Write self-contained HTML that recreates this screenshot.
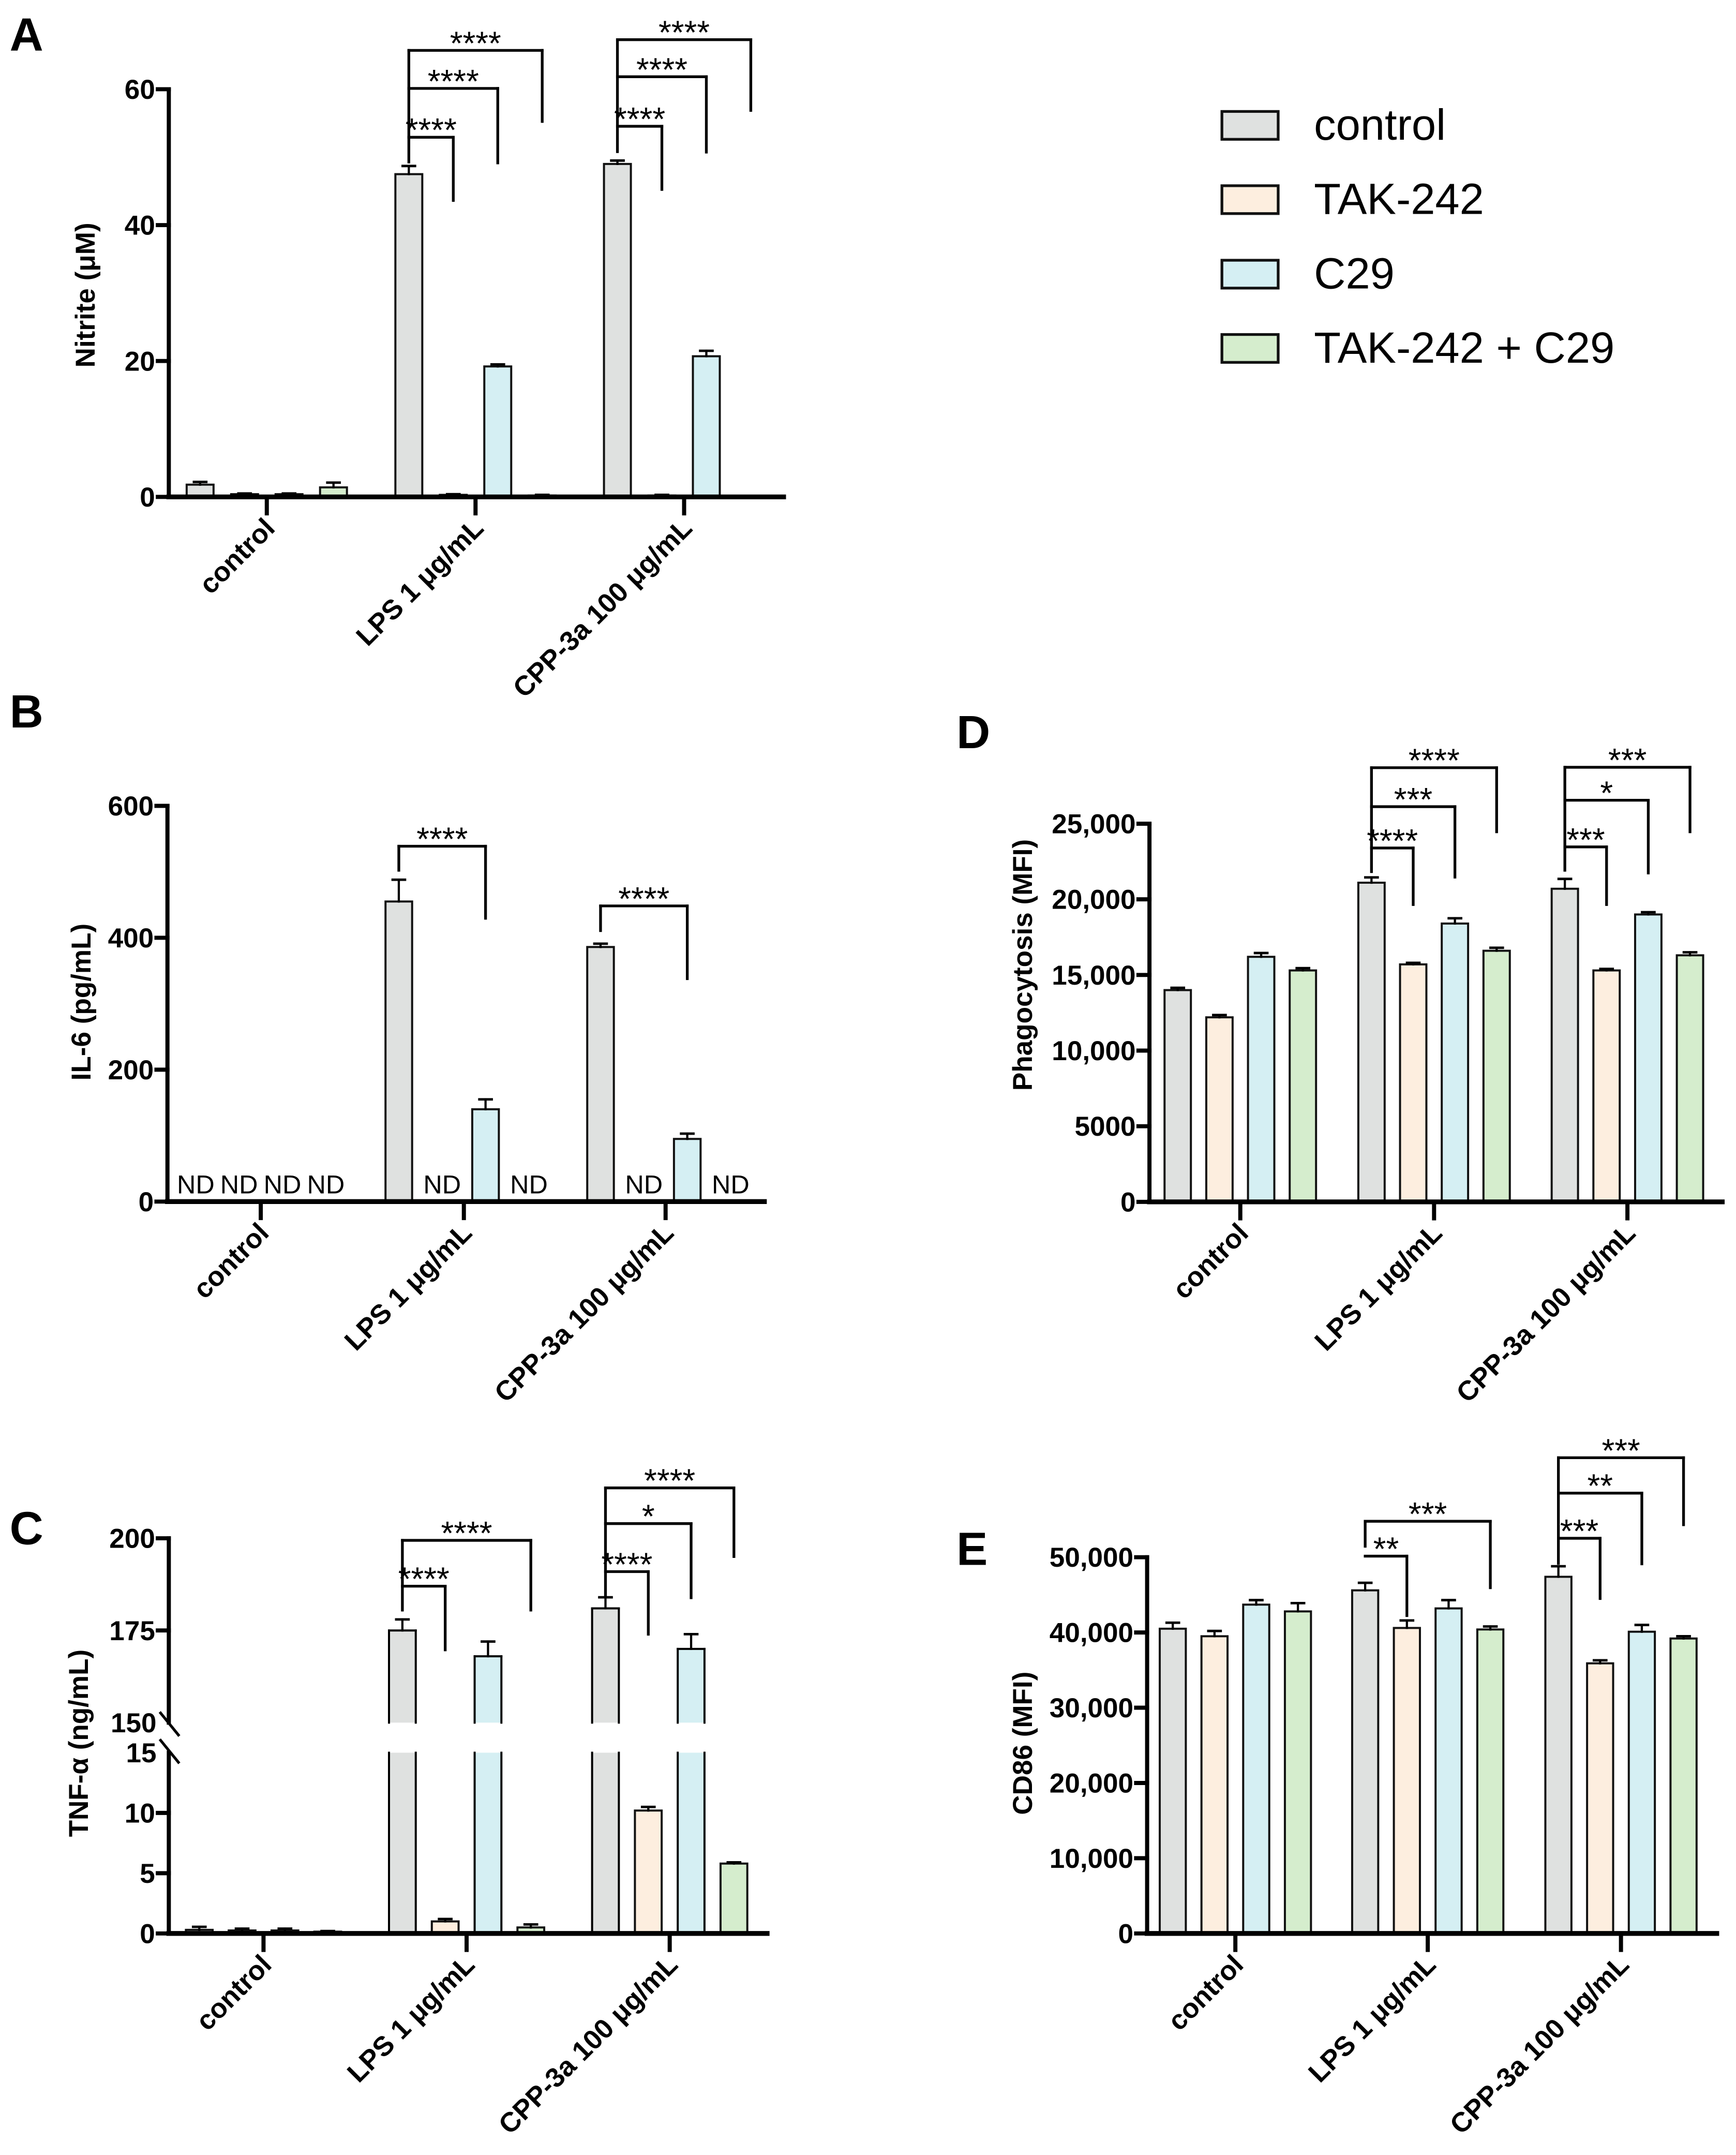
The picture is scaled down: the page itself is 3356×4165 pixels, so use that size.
<!DOCTYPE html>
<html><head><meta charset="utf-8">
<style>
html,body{margin:0;padding:0;background:#fff;}
svg{display:block;}
text{font-family:"Liberation Sans",Arial,sans-serif;}
</style></head>
<body>
<svg id="fig" xmlns="http://www.w3.org/2000/svg" width="3356" height="4165" viewBox="0 0 1265 1570">
<rect x="0" y="0" width="1265" height="1570" fill="#fff"/>
</svg>
<script>
// ---------- data ----------
const categories = ["control", "LPS 1 \u03bcg/mL", "CPP-3a 100 \u03bcg/mL"];
const seriesNames = ["control", "TAK-242", "C29", "TAK-242 + C29"];
const seriesColors = ["#dfe1e0", "#fdeedf", "#d5eff3", "#d5edcd"];

const nitriteVals = [[1.8,0.4,0.4,1.4],[47.5,0.3,19.2,0.2],[49.0,0.2,20.7,0.1]];
const nitriteErr  = [[0.4,0.1,0.1,0.7],[1.2,0.1,0.3,0.1],[0.5,0.1,0.8,0.05]];
const nitriteTicks = [0,20,40,60];

const il6Vals = [[null,null,null,null],[455,null,140,null],[386,null,95,null]];
const il6Err  = [[0,0,0,0],[33,0,15,0],[5,0,8,0]];
const il6Ticks = [0,200,400,600];

const tnfVals = [[0.3,0.25,0.25,0.15],[175,1.0,168,0.5],[181,10.2,170,5.8]];
const tnfErr  = [[0.25,0.15,0.15,0.05],[3,0.2,4,0.25],[3,0.3,4,0.1]];
const tnfTicksLow = [0,5,10,15];
const tnfTicksHigh = [150,175,200];

const phagoVals = [[14000,12200,16200,15300],[21100,15700,18400,16600],[20700,15300,19000,16300]];
const phagoErr  = [[150,150,250,150],[350,100,350,200],[650,100,150,200]];
const phagoTicks = [0,5000,10000,15000,20000,25000];
const phagoTickLabels = ["0","5000","10,000","15,000","20,000","25,000"];

const cd86Vals = [[40500,39500,43700,42800],[45600,40600,43200,40400],[47400,35900,40100,39200]];
const cd86Err  = [[800,700,600,1100],[1000,1000,1100,400],[1400,400,900,300]];
const cd86Ticks = [0,10000,20000,30000,40000,50000];
const cd86TickLabels = ["0","10,000","20,000","30,000","40,000","50,000"];

// ---------- helpers ----------
const NS = "http://www.w3.org/2000/svg";
const svg = document.getElementById("fig");
function mk(tag, attrs, parent){
  const e = document.createElementNS(NS, tag);
  for (const k in attrs) e.setAttribute(k, attrs[k]);
  (parent||svg).appendChild(e);
  return e;
}
function line(g,x1,y1,x2,y2,w,name){
  const l = mk("line",{x1:x1,y1:y1,x2:x2,y2:y2,stroke:"#000","stroke-width":w,"stroke-linecap":"square"},g);
  
  
  return l;
}
function txt(g,x,y,s,size,opts){
  opts = opts||{};
  const t = mk("text",{x:x,y:y,"font-size":size,"text-anchor":opts.anchor||"middle","font-weight":opts.bold?"bold":"normal",fill:"#000"},g);
  if (opts.transform) t.setAttribute("transform", opts.transform);
  t.textContent = s;
  
  
  return t;
}

function drawPanel(p){
  const g = mk("g",{});
  
  
  // panel letter
  txt(g, p.letterX, p.letterY, p.letter, 34, {bold:true, anchor:"start", name:'panel-letter'});
  const xc = (gi, si) => p.ticksX[gi] + (si-1.5)*p.spacing;
  const bw = p.barW;
  // bars
  p.vals.forEach((grp, gi) => grp.forEach((v, si) => {
    if (v === null) {
      txt(g, xc(gi,si), p.y0-6, "ND", 19, {name:'nd-label'});
      return;
    }
    const top = p.yf(v);
    const x = xc(gi,si) - bw/2;
    if (p.broken && v > p.breakLow) {
      const r1 = mk("rect",{x:x,y:p.yf(p.breakLow),width:bw,height:p.y0-p.yf(p.breakLow),fill:seriesColors[si],stroke:"none"},g);
      
      
      line(g,x,p.yf(p.breakLow),x,p.y0,1.5,'bar-edge');
      line(g,x+bw,p.yf(p.breakLow),x+bw,p.y0,1.5,'bar-edge');
      const r2 = mk("rect",{x:x,y:top,width:bw,height:p.yf(p.breakHigh)-top,fill:seriesColors[si],stroke:"none"},g);
      
      
      line(g,x,top,x,p.yf(p.breakHigh),1.5,'bar-edge');
      line(g,x+bw,top,x+bw,p.yf(p.breakHigh),1.5,'bar-edge');
      line(g,x,top,x+bw,top,1.5,'bar-top');
    } else {
      const r = mk("rect",{x:x,y:top,width:bw,height:Math.max(0.5,p.y0-top),fill:seriesColors[si],stroke:"#111","stroke-width":1.5},g);
      
      
    }
    const e = p.errs[gi][si];
    if (e > 0) {
      const et = p.yf(v+e);
      line(g, xc(gi,si), top, xc(gi,si), et, 1.6, 'error-bar');
      line(g, xc(gi,si)-4.5, et, xc(gi,si)+4.5, et, 1.8, 'error-cap');
    }
  }));
  // y axis
  if (p.broken) {
    line(g,p.axisX,p.y0,p.axisX,p.yf(p.breakLow),3,'y-axis-lower');
    line(g,p.axisX,p.yf(p.breakHigh),p.axisX,p.yf(p.ticksHigh[p.ticksHigh.length-1]),3,'y-axis-upper');
    line(g,p.axisX-6,p.yf(p.breakHigh)-7,p.axisX+7,p.yf(p.breakHigh)+9,2,'axis-break-mark');
    line(g,p.axisX-6,p.yf(p.breakLow)-9,p.axisX+7,p.yf(p.breakLow)+7,2,'axis-break-mark');
    p.ticksLow.forEach(t => { if (t!==p.breakLow) line(g,p.axisX-8,p.yf(t),p.axisX,p.yf(t),3,'y-tick'); txt(g,p.axisX-(t===p.breakLow?9:10),p.yf(t)+7,String(t),20,{bold:true,anchor:"end",name:'y-tick-label'}); });
    p.ticksHigh.forEach(t => { if (t!==p.breakHigh) line(g,p.axisX-8,p.yf(t),p.axisX,p.yf(t),3,'y-tick'); txt(g,p.axisX-(t===p.breakHigh?9:10),p.yf(t)+7,String(t),20,{bold:true,anchor:"end",name:'y-tick-label'}); });
  } else {
    line(g,p.axisX,p.y0,p.axisX,p.yf(p.ticks[p.ticks.length-1]),3,'y-axis');
    p.ticks.forEach((t,i) => {
      line(g,p.axisX-8,p.yf(t),p.axisX,p.yf(t),3,'y-tick');
      txt(g,p.axisX-10,p.yf(t)+7,p.tickLabels?p.tickLabels[i]:String(t),20,{bold:true,anchor:"end",name:'y-tick-label'});
    });
  }
  // x axis
  line(g,p.axisX,p.y0,p.axisEnd,p.y0,3.5,'x-axis');
  p.ticksX.forEach((tx,i) => {
    line(g,tx,p.y0,tx,p.y0+12,3,'x-tick');
    txt(g,tx+7,p.y0+24,categories[i],20,{bold:true,anchor:"end",transform:"rotate(-45 "+(tx+7)+" "+(p.y0+24)+")",name:'x-tick-label'});
  });
  // y title
  txt(g,p.titleX,p.titleY,p.title,20,{bold:true,transform:"rotate(-90 "+p.titleX+" "+p.titleY+")",name:'y-axis-title'});
  // significance brackets
  p.brackets.forEach(b => {
    const gi=b.g; const x1=xc(gi,0);
    let minY = Infinity;
    b.items.forEach(it => {
      const x2 = xc(gi,it.to);
      line(g,x1,it.y,x2,it.y,2,'significance-bracket');
      line(g,x2,it.y,x2,it.yr,2,'significance-bracket-end');
      txt(g,(x1+x2)/2,it.y+3,it.s,24,{name:'significance-stars'});
      minY = Math.min(minY,it.y);
    });
    line(g,x1,minY,x1,b.left,2,'significance-bracket-start');
  });
}

// Panel A
drawPanel({name:'panel-a-nitrite',letter:'A',letterX:7,letterY:37,axisX:123,axisEnd:571,y0:362,
  yf:v=>362-v*4.95, ticks:nitriteTicks, vals:nitriteVals, errs:nitriteErr,
  ticksX:[194.4,346.5,498.5], spacing:32.4, barW:19.6,
  title:"Nitrite  (\u03bcM)", titleX:69, titleY:215,
  brackets:[{g:1,left:118,items:[{to:1,y:100,yr:146,s:"****"},{to:2,y:64.4,yr:118.7,s:"****"},{to:3,y:36.7,yr:88.5,s:"****"}]},
            {g:2,left:110.5,items:[{to:1,y:92,yr:138,s:"****"},{to:2,y:55.9,yr:110.8,s:"****"},{to:3,y:28.9,yr:80.4,s:"****"}]}]});

// Panel B
drawPanel({name:'panel-b-il6',letter:'B',letterX:7,letterY:530,axisX:122,axisEnd:557,y0:875.4,
  yf:v=>875.4-v*0.4805, ticks:il6Ticks, vals:il6Vals, errs:il6Err,
  ticksX:[190,338,485], spacing:31.6, barW:19.4,
  title:"IL-6 (pg/mL)", titleX:66, titleY:730,
  brackets:[{g:1,left:634,items:[{to:2,y:616.5,yr:669,s:"****"}]},
            {g:2,left:678,items:[{to:2,y:660,yr:713,s:"****"}]}]});

// Panel C (broken axis)
const yLow = v=>1408.6-v*8.78;
const yHigh = v=>1255-(v-150)*2.686;
drawPanel({name:'panel-c-tnf',letter:'C',letterX:7,letterY:1125,axisX:123,axisEnd:559,y0:1408.6,
  yf:v=> v<=15 ? yLow(v) : (v>=150 ? yHigh(v) : yLow(15)), broken:true, breakLow:15, breakHigh:150,
  ticksLow:tnfTicksLow, ticksHigh:tnfTicksHigh, vals:tnfVals, errs:tnfErr,
  ticksX:[192,340,488], spacing:31.2, barW:19.5,
  title:"TNF-\u03b1  (ng/mL)", titleX:64, titleY:1270,
  brackets:[{g:1,left:1173,items:[{to:1,y:1155.6,yr:1202,s:"****"},{to:3,y:1122.2,yr:1173,s:"****"}]},
            {g:2,left:1162,items:[{to:1,y:1145,yr:1190.6,s:"****"},{to:2,y:1110,yr:1164,s:"*"},{to:3,y:1084,yr:1134,s:"****"}]}]});

// Panel D
drawPanel({name:'panel-d-phagocytosis',letter:'D',letterX:697,letterY:545,axisX:837.6,axisEnd:1255,y0:875.6,
  yf:v=>875.6-v*0.01102, ticks:phagoTicks, tickLabels:phagoTickLabels, vals:phagoVals, errs:phagoErr,
  ticksX:[903.8,1045,1185.9], spacing:30.4, barW:19.2,
  title:"Phagocytosis  (MFI)", titleX:752, titleY:703,
  brackets:[{g:1,left:635,items:[{to:1,y:617.8,yr:659,s:"****"},{to:2,y:587.7,yr:639,s:"***"},{to:3,y:559.3,yr:606,s:"****"}]},
            {g:2,left:634,items:[{to:1,y:617,yr:659,s:"***"},{to:2,y:583,yr:636,s:"*"},{to:3,y:559,yr:606,s:"***"}]}]});

// Panel E
drawPanel({name:'panel-e-cd86',letter:'E',letterX:697,letterY:1140,axisX:835.9,axisEnd:1251,y0:1408.6,
  yf:v=>1408.6-v*0.005482, ticks:cd86Ticks, tickLabels:cd86TickLabels, vals:cd86Vals, errs:cd86Err,
  ticksX:[900.2,1040.4,1181.2], spacing:30.4, barW:19,
  title:"CD86  (MFI)", titleX:752, titleY:1270,
  brackets:[{g:1,left:1126.5,items:[{to:1,y:1133.7,yr:1177,s:"**"},{to:3,y:1108.3,yr:1156.7,s:"***"}]},
            {g:2,left:1139,items:[{to:1,y:1120.7,yr:1164.6,s:"***"},{to:2,y:1087.8,yr:1139.3,s:"**"},{to:3,y:1062,yr:1110.8,s:"***"}]}]});

// Legend
const lg = mk("g",{});


const legendY = [81.2,135.3,189.6,243.7];
seriesNames.forEach((n,i) => {
  const r = mk("rect",{x:890.4,y:legendY[i],width:41,height:20.3,fill:seriesColors[i],stroke:"#111","stroke-width":2},lg);
  
  
  txt(lg,957.5,legendY[i]+20.5,n,32,{anchor:"start",name:'legend-entry'});
});
</script>
</body></html>
